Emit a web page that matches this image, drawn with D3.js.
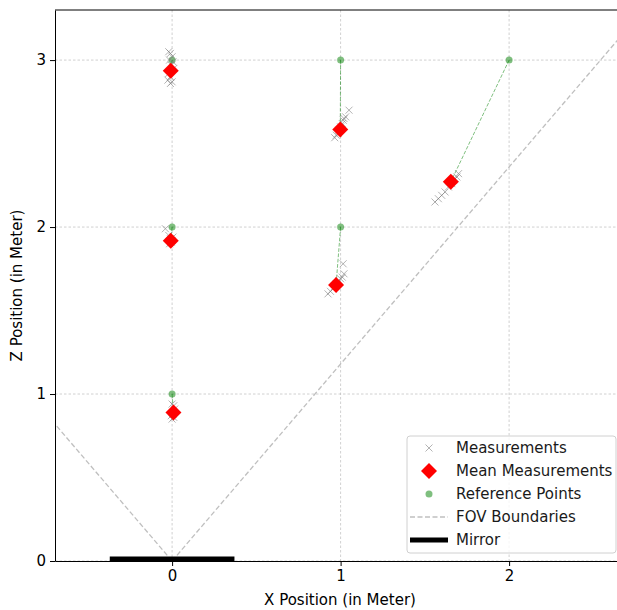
<!DOCTYPE html>
<html>
<head>
<meta charset="utf-8">
<script src="https://cdn.jsdelivr.net/npm/d3@7"></script>
<style>
  body { margin: 0; background: #fff; }
  svg { font-family: "DejaVu Sans", sans-serif; }
</style>
</head>
<body>
<svg id="chart" width="617" height="610"></svg>
<script>
// ---- data ----
var refX = [0, 0, 0, 1, 1, 2];
var refZ = [1, 2, 3, 2, 3, 3];

var meanX = [0.008, -0.008, -0.008, 0.973, 0.998, 1.654];
var meanZ = [0.890, 1.918, 2.936, 1.653, 2.585, 2.271];

var measX = [
  // near (0,1)
  0.0, 0.01, 0.005, 0.015, 0.01, 0.0, -0.005,
  // near (0,2)
  -0.02, -0.01, 0.0, -0.015, -0.005, -0.04, 0.005,
  // near (0,3)
  -0.02, -0.01, 0.0, -0.015, 0.005, -0.005, 0.01, -0.02, -0.01, -0.025, 0.0, -0.01,
  // near (1,2)
  0.925, 0.94, 0.955, 0.965, 0.975, 0.99, 1.0, 1.01, 1.015, 1.02,
  // near (1,3)
  0.965, 0.975, 0.985, 0.99, 1.0, 1.01, 1.015, 1.02, 1.03, 1.05,
  // near (2,3)
  1.56, 1.58, 1.60, 1.62, 1.64, 1.66, 1.67, 1.68, 1.69, 1.70
];
var measZ = [
  0.85, 0.86, 0.88, 0.91, 0.93, 0.94, 0.87,
  1.95, 1.93, 1.92, 1.90, 1.91, 1.99, 1.94,
  3.05, 3.04, 3.02, 3.00, 2.99, 2.97, 2.95, 2.92, 2.90, 2.88, 2.87, 2.86,
  1.60, 1.615, 1.63, 1.645, 1.66, 1.68, 1.69, 1.70, 1.78, 1.72,
  2.535, 2.55, 2.56, 2.58, 2.60, 2.62, 2.64, 2.65, 2.66, 2.70,
  2.15, 2.17, 2.19, 2.21, 2.24, 2.26, 2.28, 2.29, 2.30, 2.32
];

var fovSlope = 1.18;
var mirrorX = [-0.37, 0.37];

var xTicks = [0, 1, 2];
var yTicks = [0, 1, 2, 3];

var legendLabels = ["Measurements", "Mean Measurements", "Reference Points", "FOV Boundaries", "Mirror"];

// ---- layout ----
var svg = d3.select("#chart");
var padL = 55, padT = 10, padR = 622, padB = 561;
var fs = 15;

var x = d3.scaleLinear().domain([-0.695, 2.67]).range([padL, padR]);
var y = d3.scaleLinear().domain([0, 3.3]).range([padB, padT]);

svg.append("clipPath").attr("id", "clip")
  .append("rect")
  .attr("x", padL).attr("y", padT)
  .attr("width", padR - padL).attr("height", padB - padT);

// grid
var grid = svg.append("g");
grid.selectAll(".gx").data(xTicks).join("line")
  .attr("x1", d => x(d)).attr("x2", d => x(d))
  .attr("y1", padT).attr("y2", padB)
  .attr("stroke", "#b0b0b0").attr("stroke-width", 0.6)
  .attr("stroke-dasharray", "2.5,2");
grid.selectAll(".gy").data(yTicks).join("line")
  .attr("y1", d => y(d)).attr("y2", d => y(d))
  .attr("x1", padL).attr("x2", padR)
  .attr("stroke", "#b0b0b0").attr("stroke-width", 0.6)
  .attr("stroke-dasharray", "2.5,2");

var plot = svg.append("g").attr("clip-path", "url(#clip)");

// FOV boundaries
[-1, 1].forEach(function(s) {
  var xEnd = s > 0 ? 2.67 : -0.695;
  plot.append("line")
    .attr("x1", x(0)).attr("y1", y(0))
    .attr("x2", x(xEnd)).attr("y2", y(Math.abs(xEnd) * fovSlope))
    .attr("stroke", "gray").attr("stroke-opacity", 0.5)
    .attr("stroke-width", 1.3)
    .attr("stroke-dasharray", "5,2.5");
});

// mirror
plot.append("line")
  .attr("x1", x(mirrorX[0])).attr("x2", x(mirrorX[1]))
  .attr("y1", y(0)).attr("y2", y(0))
  .attr("stroke", "black").attr("stroke-width", 9);

// reference -> mean connectors
plot.selectAll(".conn").data(refX).join("line")
  .attr("x1", (d, i) => x(refX[i])).attr("y1", (d, i) => y(refZ[i]))
  .attr("x2", (d, i) => x(meanX[i])).attr("y2", (d, i) => y(meanZ[i]))
  .attr("stroke", "green").attr("stroke-opacity", 0.5)
  .attr("stroke-width", 1)
  .attr("stroke-dasharray", "3.7,1.6");

// reference points
plot.selectAll(".ref").data(refX).join("circle")
  .attr("cx", (d, i) => x(refX[i])).attr("cy", (d, i) => y(refZ[i]))
  .attr("r", 3.5)
  .attr("fill", "green").attr("fill-opacity", 0.5);

// measurements
var xs = 3.5;
var cross = "M" + (-xs) + "," + (-xs) + "L" + xs + "," + xs + "M" + (-xs) + "," + xs + "L" + xs + "," + (-xs);
plot.selectAll(".meas").data(measX).join("path")
  .attr("transform", (d, i) => "translate(" + x(measX[i]) + "," + y(measZ[i]) + ")")
  .attr("d", cross)
  .attr("stroke", "gray").attr("stroke-opacity", 0.6).attr("stroke-width", 1)
  .attr("fill", "none");

// mean measurements
var ds = 8;
var diamond = "M0," + (-ds) + "L" + ds + ",0L0," + ds + "L" + (-ds) + ",0Z";
plot.selectAll(".mean").data(meanX).join("path")
  .attr("transform", (d, i) => "translate(" + x(meanX[i]) + "," + y(meanZ[i]) + ")")
  .attr("d", diamond)
  .attr("fill", "red");

// axes
var xAxis = svg.append("g").attr("transform", "translate(0," + padB + ")")
  .call(d3.axisBottom(x).tickValues(xTicks).tickFormat(d3.format("d")).tickSize(5).tickPadding(4).tickSizeOuter(0));
var yAxis = svg.append("g").attr("transform", "translate(" + padL + ",0)")
  .call(d3.axisLeft(y).tickValues(yTicks).tickFormat(d3.format("d")).tickSize(5).tickPadding(4).tickSizeOuter(0));
[xAxis, yAxis].forEach(function(a) {
  a.select(".domain").attr("stroke", "black").attr("stroke-width", 1);
  a.selectAll(".tick line").attr("stroke", "black");
  a.selectAll(".tick text").attr("font-size", fs).attr("fill", "black")
    .attr("font-family", "DejaVu Sans");
});
svg.append("line").attr("x1", padL).attr("x2", padR).attr("y1", padT).attr("y2", padT)
  .attr("stroke", "black");

// axis labels
svg.append("text").attr("x", 340).attr("y", 605)
  .attr("text-anchor", "middle").attr("font-size", fs)
  .text("X Position (in Meter)");
svg.append("text")
  .attr("transform", "translate(22," + ((padT + padB) / 2) + ") rotate(-90)")
  .attr("text-anchor", "middle").attr("font-size", fs)
  .text("Z Position (in Meter)");

// legend
var lg = svg.append("g").attr("transform", "translate(407,436)");
lg.append("rect").attr("width", 209).attr("height", 117).attr("rx", 3)
  .attr("fill", "white").attr("fill-opacity", 0.8)
  .attr("stroke", "#d0d0d0").attr("stroke-width", 1);
var rowY = d => 12 + d * 23;
legendLabels.forEach(function(lab, i) {
  var cy = rowY(i);
  var g = lg.append("g");
  if (i === 0) {
    g.append("path").attr("transform", "translate(22," + cy + ")")
      .attr("d", cross)
      .attr("stroke", "gray").attr("stroke-opacity", 0.6).attr("fill", "none");
  } else if (i === 1) {
    g.append("path").attr("transform", "translate(22," + cy + ")")
      .attr("d", diamond).attr("fill", "red");
  } else if (i === 2) {
    g.append("circle").attr("cx", 22).attr("cy", cy).attr("r", 3.5)
      .attr("fill", "green").attr("fill-opacity", 0.5);
  } else if (i === 3) {
    g.append("line").attr("x1", 3).attr("x2", 41).attr("y1", cy).attr("y2", cy)
      .attr("stroke", "gray").attr("stroke-opacity", 0.5).attr("stroke-width", 1.3)
      .attr("stroke-dasharray", "5,2.5");
  } else {
    g.append("line").attr("x1", 3).attr("x2", 41).attr("y1", cy).attr("y2", cy)
      .attr("stroke", "black").attr("stroke-width", 5);
  }
  g.append("text").attr("x", 49).attr("y", cy + 5)
    .attr("font-size", fs).attr("fill", "#1a1a1a").text(lab);
});
</script>
</body>
</html>
